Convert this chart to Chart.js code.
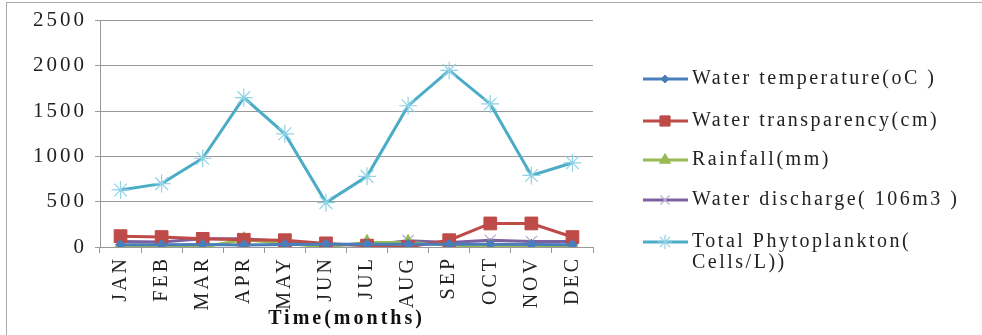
<!DOCTYPE html>
<html><head><meta charset="utf-8">
<script src="https://cdn.jsdelivr.net/npm/chart.js@4"></script>
<style>
html,body{margin:0;padding:0;background:#fff;}
#wrap{position:relative;width:982px;height:335px;overflow:hidden;}
#frame{position:absolute;left:6px;top:2px;width:990px;height:340px;border:1px solid #aaa;box-sizing:border-box;pointer-events:none;}
</style></head>
<body><div id="wrap"><canvas id="c" width="982" height="335"></canvas><div id="frame"></div></div>
<script>
const months = ["JAN","FEB","MAR","APR","MAY","JUN","JUL","AUG","SEP","OCT","NOV","DEC"];
const waterTemperature = [25,25,27,22,28,30,30,30,30,30,28,25];
const waterTransparency = [120,110,90,80,75,40,15,0,75,260,260,110];
const rainfall = [0,0,0,80,40,0,50,50,20,10,0,0];
const waterDischarge = [60,55,90,90,60,30,20,70,50,75,60,60];
const totalPhytoplankton = [630,700,980,1650,1250,490,780,1560,1950,1580,790,930];
const yTicks = [0,500,1000,1500,2000,2500];
const legendLabels = ["Water temperature(oC )","Water transparency(cm)","Rainfall(mm)","Water discharge( 106m3 )",["Total Phytoplankton(","Cells/L))"]];
const FONT = "'Liberation Serif','Times New Roman',serif";

function ds(label, data, color, style, r, pbc, pbw){
  return {label, data, borderColor:color, backgroundColor:color, pointStyle:style,
    pointRadius:r, pointHoverRadius:r, borderWidth:3, pointBorderColor:pbc||color, pointBorderWidth:pbw||1, tension:0};
}
const datasets = [
  ds(legendLabels[0], waterTemperature, '#4a7ebb', 'rectRot', 5),
  ds(legendLabels[1], waterTransparency, '#be4b48', 'rect', 9),
  ds(legendLabels[2], rainfall, '#98b954', 'triangle', 8),
  ds(legendLabels[3], waterDischarge, '#7d60a0', 'crossRot', 8, '#b9a8d6', 1.2),
  ds(legendLabels[4], totalPhytoplankton, '#4bacc6', 'star', 9, '#8fd3e6', 1.2),
];

const spacingPlugin = {
  id:'spacing',
  beforeDraw(chart){ chart.ctx.letterSpacing = '3px'; }
};

const legendPlugin = {
  id:'customLegend',
  afterDraw(chart){
    const ctx = chart.ctx;
    const ys = [79,121,160,200,242];
    ctx.save();
    chart.data.datasets.forEach((d,i)=>{
      const y = ys[i];
      ctx.strokeStyle = d.borderColor; ctx.lineWidth = 3;
      ctx.beginPath(); ctx.moveTo(643,y); ctx.lineTo(688,y); ctx.stroke();
      ctx.fillStyle = d.backgroundColor;
      ctx.strokeStyle = d.pointBorderColor;
      ctx.lineWidth = d.pointBorderWidth;
      Chart.helpers.drawPoint(ctx, {pointStyle:d.pointStyle, radius:d.pointRadius*0.8, borderWidth:d.pointBorderWidth, rotation:0}, 665, y);
      ctx.fillStyle = '#222';
      ctx.font = "20px " + FONT;
      ctx.letterSpacing = '2.5px';
      ctx.textBaseline = 'middle'; ctx.textAlign='left';
      const lab = Array.isArray(d.label)? d.label : [d.label];
      lab.forEach((t,k)=>ctx.fillText(t, 692, y + k*21));
    });
    ctx.restore();
  }
};

new Chart(document.getElementById('c'), {
  type:'line',
  data:{labels:months, datasets},
  plugins:[spacingPlugin, legendPlugin],
  options:{
    responsive:false, animation:false,
    layout:{padding:{left:0,right:389,top:17,bottom:0}},
    plugins:{legend:{display:false}, tooltip:{enabled:false}},
    scales:{
      x:{
        offset:true,
        grid:{offset:true, drawOnChartArea:false, drawTicks:true, tickLength:6, color:'#999'},
        border:{color:'#999', width:1},
        ticks:{minRotation:90, maxRotation:90, autoSkip:false, color:'#222', font:{family:FONT, size:20}, padding:3},
        title:{display:true, text:'Time(months)', color:'#111', font:{family:FONT, size:20, weight:'bold'}, padding:{top:0,bottom:4}},
        afterFit(s){ s.height = 88; }
      },
      y:{
        min:0, max:2500,
        afterBuildTicks(s){ s.ticks = yTicks.map(v=>({value:v})); },
        grid:{color:'#9a9a9a', tickLength:5, lineWidth:1},
        border:{color:'#999', width:1},
        ticks:{color:'#222', font:{family:FONT, size:21}, padding:8, callback:v=>String(v)},
        afterFit(s){ s.width = 100; }
      }
    }
  }
});
</script></body></html>
